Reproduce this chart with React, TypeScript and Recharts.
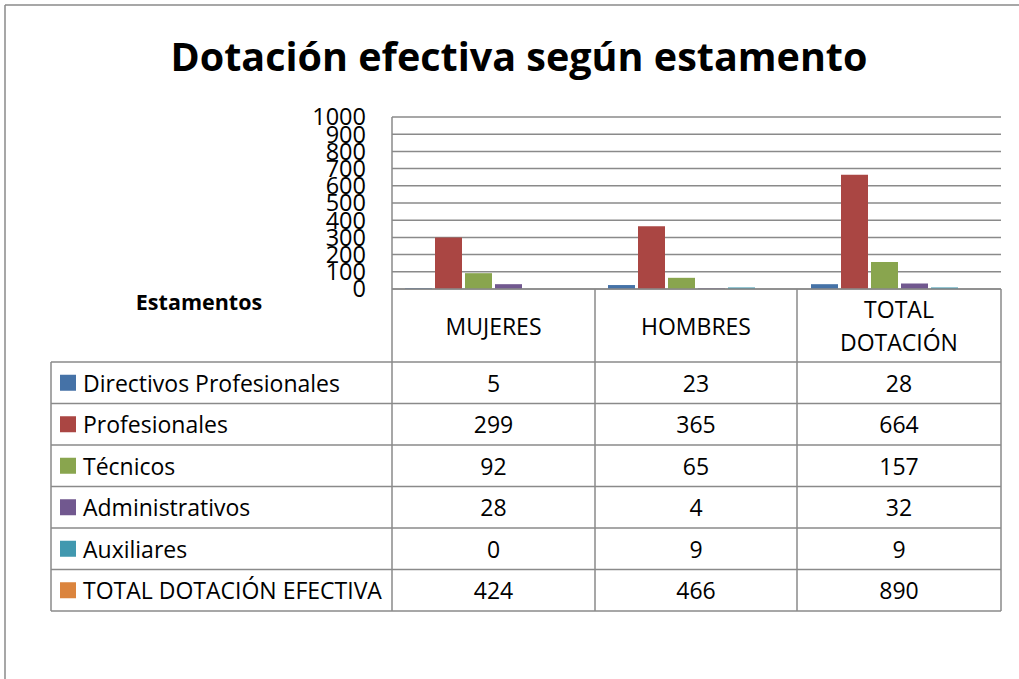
import React from 'react';
import { BarChart, Bar, XAxis, YAxis, CartesianGrid } from 'recharts';

const categories = ['MUJERES', 'HOMBRES', 'TOTAL DOTACIÓN'];
const headerLines = [['MUJERES'], ['HOMBRES'], ['TOTAL', 'DOTACIÓN']];
const seriesNames = [
  'Directivos Profesionales',
  'Profesionales',
  'Técnicos',
  'Administrativos',
  'Auxiliares',
  'TOTAL DOTACIÓN EFECTIVA',
];
const directivos = [5, 23, 28];
const profesionales = [299, 365, 664];
const tecnicos = [92, 65, 157];
const administrativos = [28, 4, 32];
const auxiliares = [0, 9, 9];
const totalDotacion = [424, 466, 890];
const yTicks = [0, 100, 200, 300, 400, 500, 600, 700, 800, 900, 1000];
const colors = ['#4572A7', '#AA4643', '#89A54E', '#71588F', '#4198AF', '#DB843D'];
const title = 'Dotación efectiva según estamento';

const seriesValues = [directivos, profesionales, tecnicos, administrativos, auxiliares, totalDotacion];
const data = categories.map((c, i) => {
  const row: Record<string, string | number> = { cat: c };
  seriesValues.forEach((vals, s) => {
    row['s' + s] = vals[i];
  });
  return row;
});

const FONT = '"Open Sans", "Noto Sans", sans-serif';
const GRID = '#8a8a8a';
const W = 1019;
const H = 679;
const PL = 392;
const PR = 1001;
const PT = 117;
const PB = 289;
const colX = [PL, 595, 797, PR];
const TL = 51;
const rowTop = 362;
const rowH = 41.5;
const TXT = 23;

export default function App() {
  const rowLines = seriesNames.map((_, i) => rowTop + i * rowH).concat([rowTop + seriesNames.length * rowH]);
  const tableBottom = rowTop + seriesNames.length * rowH;
  return (
    <div style={{ position: 'absolute', left: 0, top: 0, width: W, height: H, background: '#fff', overflow: 'hidden' }}>
      <BarChart
        width={W}
        height={H}
        data={data}
        margin={{ top: PT, right: W - PR, bottom: H - PB, left: PL - 60 }}
        barSize={27}
        barGap={3}
        barCategoryGap={13}
      >
        <CartesianGrid vertical={false} stroke={GRID} strokeWidth={1.5} />
        <XAxis dataKey="cat" hide />
        <YAxis
          width={60}
          domain={[0, 1000]}
          ticks={yTicks}
          interval={0}
          tickLine={false}
          tickSize={0}
          tickMargin={26}
          axisLine={{ stroke: GRID, strokeWidth: 1.5 }}
          tick={{ fill: '#000', fontSize: 23.5, fontFamily: FONT }}
        />
        {seriesNames.map((n, s) => (
          <Bar
            key={n}
            dataKey={'s' + s}
            name={n}
            fill={colors[s]}
            fillOpacity={s === 5 ? 0 : 1}
            isAnimationActive={false}
          />
        ))}
      </BarChart>
      <svg width={W} height={H} style={{ position: 'absolute', left: 0, top: 0, pointerEvents: 'none' }}>
        <line x1={5} y1={5} x2={W} y2={5} stroke={GRID} strokeWidth={1.5} />
        <line x1={5} y1={5} x2={5} y2={H} stroke={GRID} strokeWidth={1.5} />
        <text x={519} y={71} textAnchor="middle" fontFamily={FONT} fontWeight={700} fontSize={39.5} fill="#000">
          {title}
        </text>
        <text x={199} y={301} textAnchor="middle" dominantBaseline="central" fontFamily={FONT} fontWeight={700} fontSize={21.5} fill="#000">
          Estamentos
        </text>
        <line x1={PL} y1={PB} x2={PR} y2={PB} stroke={GRID} strokeWidth={1.5} />
        {rowLines.map((y, i) => (
          <line key={'r' + i} x1={TL} y1={y} x2={PR} y2={y} stroke={GRID} strokeWidth={1.5} />
        ))}
        <line x1={TL} y1={rowTop} x2={TL} y2={tableBottom} stroke={GRID} strokeWidth={1.5} />
        {colX.map((x, i) => (
          <line key={'c' + i} x1={x} y1={PB} x2={x} y2={tableBottom} stroke={GRID} strokeWidth={1.5} />
        ))}
        {headerLines.map((lines, c) => {
          const cx = (colX[c] + colX[c + 1]) / 2;
          const mid = (PB + rowTop) / 2;
          return lines.map((t, k) => (
            <text
              key={'h' + c + k}
              x={cx}
              y={mid + (k - (lines.length - 1) / 2) * 33}
              textAnchor="middle"
              dominantBaseline="central"
              fontFamily={FONT}
              fontSize={TXT}
              fill="#000"
            >
              {t}
            </text>
          ));
        })}
        {seriesNames.map((n, s) => {
          const cy = rowTop + s * rowH + rowH / 2;
          return (
            <g key={'row' + s}>
              <rect x={60} y={cy - 8} width={16} height={16} fill={colors[s]} />
              <text x={83} y={cy} dominantBaseline="central" fontFamily={FONT} fontSize={TXT} fill="#000">
                {n}
              </text>
              {seriesValues[s].map((v, c) => (
                <text
                  key={'v' + c}
                  x={(colX[c] + colX[c + 1]) / 2}
                  y={cy}
                  textAnchor="middle"
                  dominantBaseline="central"
                  fontFamily={FONT}
                  fontSize={TXT}
                  fill="#000"
                >
                  {v}
                </text>
              ))}
            </g>
          );
        })}
      </svg>
    </div>
  );
}
